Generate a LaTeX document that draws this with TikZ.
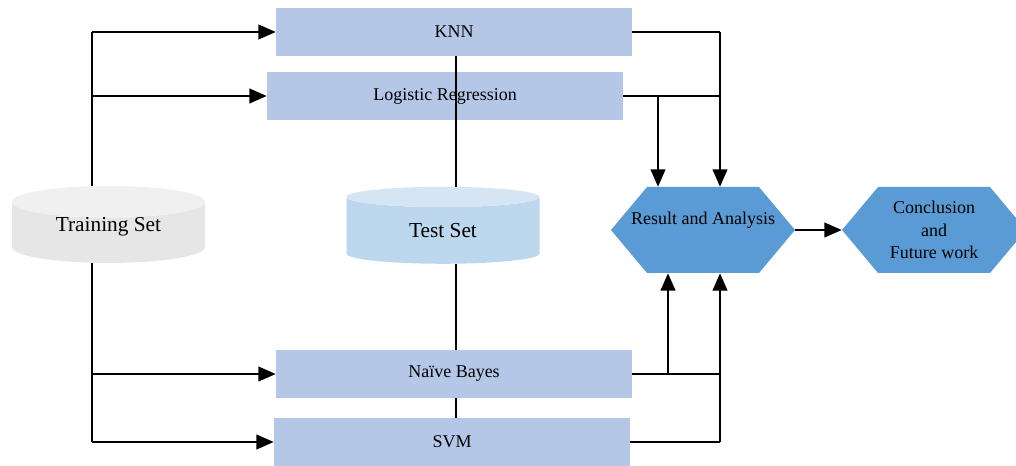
\documentclass[tikz,border=0pt]{standalone}
\usepackage{fontspec}
\setmainfont{Liberation Serif}
\usepackage{xcolor}
\usetikzlibrary{shapes.geometric,arrows.meta}

\definecolor{boxblue}{HTML}{B4C7E7}
\definecolor{hexblue}{HTML}{5B9BD5}
\definecolor{traingray}{HTML}{E7E6E6}
\definecolor{traintop}{HTML}{F0F0F0}
\definecolor{testblue}{HTML}{BDD7EE}
\definecolor{testtop}{HTML}{D6E5F4}

\tikzset{
  model/.style={rectangle, fill=boxblue, minimum width=267pt, minimum height=36pt,
    inner sep=0pt, font=\fontsize{13.5}{16}\selectfont},
  dbase/.style={cylinder, shape border rotate=90, aspect=0.3, cylinder uses custom fill,
    minimum width=144.75pt, minimum height=57.75pt, inner sep=0pt,
    font=\fontsize{16}{19}\selectfont},
  hexa/.style={rectangle, minimum width=138pt, minimum height=64.5pt, inner sep=0pt,
    align=center, font=\fontsize{13.5}{17}\selectfont,
    path picture={\fill[hexblue] (path picture bounding box.west)
      -- ([xshift=27pt]path picture bounding box.north west)
      -- ([xshift=-27pt]path picture bounding box.north east)
      -- (path picture bounding box.east)
      -- ([xshift=-27pt]path picture bounding box.south east)
      -- ([xshift=27pt]path picture bounding box.south west) -- cycle;}},
  arr/.style={-{Triangle[length=13pt,width=11pt]}, line width=1.5pt},
  wire/.style={line width=0.8pt},
}

\begin{document}
\begin{tikzpicture}[x=0.75pt,y=-0.75pt]
\useasboundingbox (0,0) rectangle (1016,466);

% models
\node[model] (knn)    at (454,32)  {KNN};
\node[model] (logreg) at (445,96)  {Logistic Regression};
\node[model] (nb)     at (454,374) {Naïve Bayes};
\node[model] (svm)    at (452,442) {SVM};

% data sets
\node[dbase, cylinder body fill=traingray, cylinder end fill=traintop] (train) at (108.5,232.5) {\raisebox{4.8pt}[8pt][0pt]{Training Set}};
\node[dbase, cylinder body fill=testblue, cylinder end fill=testtop] (test) at (443,230.5) {\raisebox{-1pt}[8pt][0pt]{Test Set}};

% results
\node[hexa] (result) at (703,230) {Result and Analysis\\ \mbox{}};
\node[hexa] (concl)  at (934,230) {Conclusion\\and\\Future work};

\coordinate (tbus) at (92,32);
\coordinate (tx) at (456,0);
\coordinate (ra) at (658,0);
\coordinate (rb) at (720,0);
\coordinate (rc) at (668,0);

% training set to models
\draw[wire] (tbus) -- (tbus |- train.north);
\draw[wire] (tbus |- train.south) -- (tbus |- svm);
\draw[arr] (tbus) -- (knn.west);
\draw[arr] (tbus |- logreg) -- (logreg.west);
\draw[arr] (tbus |- nb) -- (nb.west);
\draw[arr] (tbus |- svm) -- (svm.west);

% test set line
\draw[wire] (knn.south -| tx) -- (test.north -| tx);
\draw[wire] (test.south -| tx) -- (nb.north -| tx);
\draw[wire] (nb.south -| tx) -- (svm.north -| tx);

% models to result
\draw[wire] (knn.east) -- (rb |- knn);
\draw[wire] (logreg.east) -- (rb |- logreg);
\draw[arr] (rb |- knn) -- (rb |- result.north);
\draw[arr] (ra |- logreg) -- (ra |- result.north);
\draw[wire] (nb.east) -- (rb |- nb);
\draw[wire] (svm.east) -- (rb |- svm);
\draw[arr] (rc |- nb) -- (rc |- result.south);
\draw[arr] (rb |- svm) -- (rb |- result.south);

\draw[arr] (result.east) -- (concl.west);
\end{tikzpicture}
\end{document}
